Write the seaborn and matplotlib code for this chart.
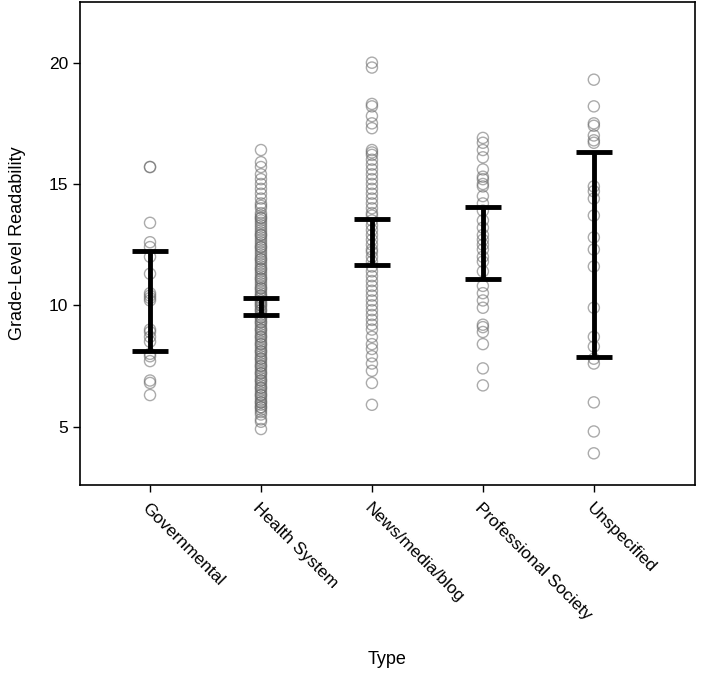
import numpy as np
import pandas as pd
import matplotlib
matplotlib.use("Agg")
import matplotlib.pyplot as plt
import seaborn as sns

categories = ["Governmental", "Health System", "News/media/blog", "Professional Society", "Unspecified"]

governmental = [15.7, 15.7, 13.4, 12.6, 12.4, 12.0, 11.3, 10.5, 10.4, 10.3, 10.2,
                9.0, 8.9, 8.7, 8.5, 8.0, 7.9, 7.7, 6.9, 6.8, 6.3]
health_system = [16.4, 15.9, 15.7, 15.4, 15.2, 15.0, 14.8, 14.6, 14.4, 14.2, 14.1, 14.0,
                 13.8, 13.7, 13.6, 13.6, 13.5, 13.3, 13.2, 13.1, 13.0, 12.9, 12.8, 12.7,
                 12.6, 12.5, 12.4, 12.3, 12.2, 12.1, 12.0, 11.9, 11.8, 11.7, 11.6, 11.5,
                 11.4, 11.3, 11.2, 11.1, 11.0, 10.9, 10.8, 10.7, 10.6, 10.5, 10.4, 10.3,
                 10.2, 10.1, 10.0, 10.0, 9.9, 9.8, 9.7, 9.6, 9.5, 9.4, 9.3, 9.2, 9.1, 9.0,
                 8.9, 8.8, 8.7, 8.6, 8.5, 8.4, 8.3, 8.2, 8.1, 8.0, 7.9, 7.8, 7.7, 7.6, 7.5,
                 7.4, 7.3, 7.2, 7.1, 7.0, 6.9, 6.8, 6.7, 6.6, 6.5, 6.4, 6.3, 6.2, 6.1, 6.0,
                 5.9, 5.8, 5.7, 5.6, 5.5, 5.3, 5.2, 4.9,
                 13.4, 12.9, 12.4, 11.9, 11.5, 11.1, 10.7, 10.4, 10.1, 9.8, 9.5, 9.3, 9.0,
                 8.7, 8.4, 8.1, 7.8, 7.5, 7.2, 6.9, 6.6, 6.3, 6.0, 5.8]
news_media = [20.0, 19.8, 18.3, 18.2, 17.8, 17.5, 17.3, 16.4, 16.3, 16.2, 16.0, 15.8,
              15.6, 15.4, 15.2, 15.0, 14.8, 14.6, 14.4, 14.2, 14.0, 13.8, 13.7, 13.5,
              13.3, 13.1, 12.9, 12.7, 12.5, 12.3, 12.2, 12.0, 11.8, 11.6, 11.4, 11.2,
              11.0, 10.8, 10.6, 10.4, 10.2, 10.0, 9.8, 9.6, 9.4, 9.2, 9.0, 8.7, 8.4,
              8.2, 7.9, 7.6, 7.3, 6.8, 5.9]
professional = [16.9, 16.7, 16.4, 16.1, 15.6, 15.3, 15.2, 15.0, 14.9, 14.5, 14.2, 13.9,
                13.5, 13.2, 12.9, 12.7, 12.5, 12.3, 12.0, 11.8, 11.4, 10.8, 10.5, 10.2,
                9.9, 9.2, 9.1, 8.9, 8.4, 7.4, 6.7]
unspecified = [19.3, 18.2, 17.5, 17.4, 17.0, 16.8, 16.7, 14.9, 14.7, 14.4, 13.7, 12.8,
               12.3, 11.6, 9.9, 8.7, 8.3, 7.8, 7.6, 6.0, 4.8, 3.9]

ci_low = [8.1, 9.6, 11.65, 11.1, 7.85]
ci_high = [12.25, 10.3, 13.55, 14.05, 16.3]

series = [governmental, health_system, news_media, professional, unspecified]
df = pd.DataFrame({
    "Type": [c for c, s in zip(categories, series) for _ in s],
    "Grade": [v for s in series for v in s],
})

sns.set_theme(style="ticks")
plt.rcParams["font.family"] = ["Liberation Sans", "DejaVu Sans"]

fig = plt.figure(figsize=(7.09, 6.80), dpi=100)
ax = fig.add_axes([0.113, 0.287, 0.867, 0.710])

sns.stripplot(data=df, x="Type", y="Grade", order=categories, jitter=False,
              size=8, marker="o", facecolor="none", edgecolor="0.4",
              linewidth=1.0, alpha=0.55, ax=ax)

mid = [(lo + hi) / 2 for lo, hi in zip(ci_low, ci_high)]
err = [[m - lo for m, lo in zip(mid, ci_low)], [hi - m for m, hi in zip(mid, ci_high)]]
ax.errorbar(x=list(range(len(categories))), y=mid, yerr=err, fmt="none",
            ecolor="black", elinewidth=3.5, capsize=13, capthick=3.5, zorder=5)

ax.set_xlim(-0.63, 4.91)
ax.set_ylim(2.6, 22.5)
ax.set_yticks([5, 10, 15, 20])
ax.tick_params(axis="both", direction="out", length=5, width=1, labelsize=12.5,
               colors="black", labelcolor="black")
ax.tick_params(axis="x", pad=6)
ax.set_xticks(range(len(categories)))
ax.set_xticklabels(categories, rotation=-45, ha="left", rotation_mode="anchor")
for s in ax.spines.values():
    s.set_linewidth(1.2)
    s.set_color("black")
    s.set_visible(True)
ax.set_xlabel("Type", fontsize=13, labelpad=10, color="black")
ax.set_ylabel("Grade-Level Readability", fontsize=13, labelpad=10, color="black")
ax.xaxis.set_label_coords(0.5, -0.345)
ax.yaxis.set_label_coords(-0.088, 0.5)

fig.savefig("out.png", dpi=100)
